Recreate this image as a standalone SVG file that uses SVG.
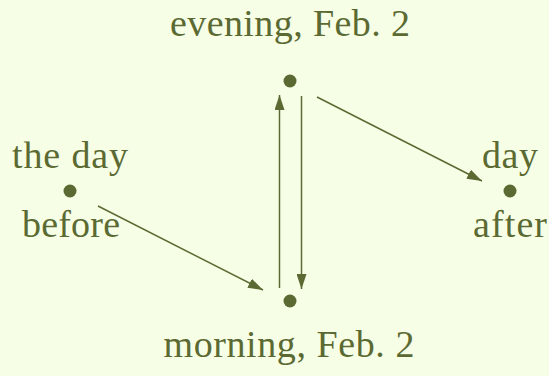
<svg xmlns="http://www.w3.org/2000/svg" width="549" height="376" viewBox="0 0 549 376">
<style>
text{font-family:"Liberation Serif","DejaVu Serif",serif;font-size:38px;fill:#5b6a32;text-anchor:middle}
.dot{fill:#5b6a32}
.edge{stroke:#5b6a32;stroke-width:1.5;fill:none;marker-end:url(#ah)}
</style>
<defs>
<marker id="ah" viewBox="0 0 15 10" refX="15" refY="5" markerWidth="15" markerHeight="10" markerUnits="userSpaceOnUse" orient="auto">
<path d="M0,0 L15,5 L0,10 Z" fill="#5b6a32"/>
</marker>
</defs>
<rect width="549" height="376" fill="#f7fee6"/>
<g id="connectors">
<line class="edge" x1="98" y1="206" x2="263" y2="290"/>
<line class="edge" x1="279.5" y1="288" x2="279.5" y2="95"/>
<line class="edge" x1="301.5" y1="96" x2="301.5" y2="289"/>
<line class="edge" x1="317" y1="97" x2="482" y2="181"/>
</g>
<g id="before">
<circle class="dot" cx="70" cy="191" r="6.5"/>
<text x="70" y="168" textLength="116">the day</text>
<text x="71" y="237" textLength="98">before</text>
</g>
<g id="evening">
<circle class="dot" cx="290" cy="81" r="6.5"/>
<text x="290" y="36" textLength="240">evening, Feb. 2</text>
</g>
<g id="morning">
<circle class="dot" cx="290" cy="301" r="6.5"/>
<text x="289" y="357" textLength="251">morning, Feb. 2</text>
</g>
<g id="after">
<circle class="dot" cx="510" cy="191" r="6.5"/>
<text x="510" y="168" textLength="56">day</text>
<text x="510" y="237" textLength="74">after</text>
</g>
</svg>
